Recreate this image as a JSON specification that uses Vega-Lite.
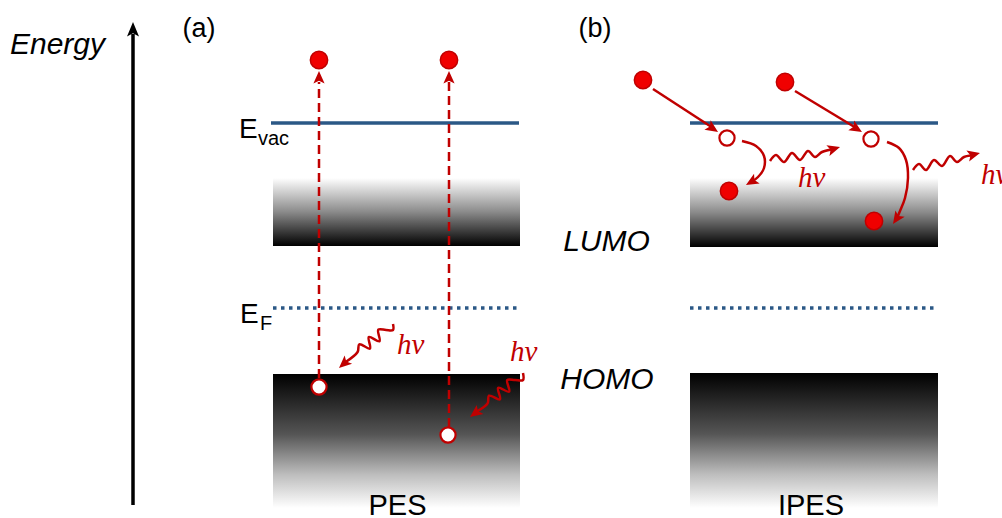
{
  "$schema": "https://vega.github.io/schema/vega-lite/v6.json",
  "width": 1002,
  "height": 518,
  "padding": 0,
  "autosize": {"type": "none"},
  "background": "white",
  "config": {"view": {"stroke": null}},
  "datasets": {
    "lumo": [
      {"x": 273, "x2": 520, "y": 178, "y2": 246, "panel": "PES"},
      {"x": 690, "x2": 938, "y": 178, "y2": 247, "panel": "IPES"}
    ],
    "homo": [
      {"x": 273, "x2": 520, "y": 374, "y2": 508, "panel": "PES"},
      {"x": 690, "x2": 938, "y": 373, "y2": 508, "panel": "IPES"}
    ],
    "evac": [
      {"x": 271, "x2": 519, "y": 123},
      {"x": 690, "x2": 938, "y": 123}
    ],
    "ef": [
      {"x": 273, "x2": 520, "y": 308},
      {"x": 690, "x2": 938, "y": 308}
    ],
    "axis": [{"x": 133, "y": 505, "y2": 34}],
    "axishead": [{"x": 133, "y": 30, "ang": 0}],
    "emission": [
      {"x": 319, "y": 378, "y2": 82},
      {"x": 449, "y": 427, "y2": 82}
    ],
    "incoming": [
      {"x": 653, "y": 89, "x2": 713, "y2": 128},
      {"x": 795, "y": 91, "x2": 857, "y2": 128.5}
    ],
    "curves": [
      {"id": "c1", "k": 0, "x": 742, "y": 141},
      {"id": "c1", "k": 1, "x": 756, "y": 146},
      {"id": "c1", "k": 2, "x": 764, "y": 156},
      {"id": "c1", "k": 3, "x": 764, "y": 168},
      {"id": "c1", "k": 4, "x": 758, "y": 177},
      {"id": "c1", "k": 5, "x": 752, "y": 181.5},
      {"id": "c2", "k": 0, "x": 887, "y": 142},
      {"id": "c2", "k": 1, "x": 899, "y": 148},
      {"id": "c2", "k": 2, "x": 906, "y": 160},
      {"id": "c2", "k": 3, "x": 908, "y": 178},
      {"id": "c2", "k": 4, "x": 905, "y": 198},
      {"id": "c2", "k": 5, "x": 900, "y": 211},
      {"id": "c2", "k": 6, "x": 897, "y": 218}
    ],
    "waves": [
      {"id": "w1", "k": 0, "x": 393, "y": 324},
      {"id": "w1", "k": 1, "x": 393, "y": 330},
      {"id": "w1", "k": 2, "x": 386, "y": 330},
      {"id": "w1", "k": 3, "x": 378.3, "y": 329.7},
      {"id": "w1", "k": 4, "x": 379.5, "y": 341.3},
      {"id": "w1", "k": 5, "x": 368.8, "y": 337},
      {"id": "w1", "k": 6, "x": 370, "y": 348.6},
      {"id": "w1", "k": 7, "x": 359.3, "y": 344.3},
      {"id": "w1", "k": 8, "x": 357.6, "y": 352},
      {"id": "w1", "k": 9, "x": 345, "y": 362.5},
      {"id": "w2", "k": 0, "x": 523, "y": 373},
      {"id": "w2", "k": 1, "x": 523, "y": 380},
      {"id": "w2", "k": 2, "x": 515, "y": 380},
      {"id": "w2", "k": 3, "x": 507.2, "y": 380.1},
      {"id": "w2", "k": 4, "x": 509.2, "y": 391.6},
      {"id": "w2", "k": 5, "x": 498.1, "y": 387.9},
      {"id": "w2", "k": 6, "x": 500, "y": 399.4},
      {"id": "w2", "k": 7, "x": 489, "y": 395.7},
      {"id": "w2", "k": 8, "x": 487.6, "y": 403.4},
      {"id": "w2", "k": 9, "x": 476, "y": 412},
      {"id": "w3", "k": 0, "x": 770, "y": 161},
      {"id": "w3", "k": 1, "x": 776, "y": 155},
      {"id": "w3", "k": 2, "x": 784, "y": 162},
      {"id": "w3", "k": 3, "x": 792, "y": 153},
      {"id": "w3", "k": 4, "x": 800, "y": 160},
      {"id": "w3", "k": 5, "x": 808, "y": 151},
      {"id": "w3", "k": 6, "x": 815, "y": 157},
      {"id": "w3", "k": 7, "x": 822, "y": 152},
      {"id": "w3", "k": 8, "x": 834, "y": 149},
      {"id": "w4", "k": 0, "x": 913, "y": 170},
      {"id": "w4", "k": 1, "x": 919, "y": 164},
      {"id": "w4", "k": 2, "x": 926, "y": 170},
      {"id": "w4", "k": 3, "x": 934, "y": 160},
      {"id": "w4", "k": 4, "x": 942, "y": 166},
      {"id": "w4", "k": 5, "x": 950, "y": 156},
      {"id": "w4", "k": 6, "x": 957, "y": 162},
      {"id": "w4", "k": 7, "x": 964, "y": 157},
      {"id": "w4", "k": 8, "x": 974, "y": 155}
    ],
    "heads": [
      {"x": 319, "y": 78, "ang": 0},
      {"x": 449, "y": 78, "ang": 0},
      {"x": 344.2, "y": 363.3, "ang": 228},
      {"x": 475.6, "y": 412.8, "ang": 233},
      {"x": 712.2, "y": 128.1, "ang": 123.5},
      {"x": 856, "y": 128.3, "ang": 121.5},
      {"x": 752, "y": 181.5, "ang": 240},
      {"x": 896.9, "y": 218.2, "ang": 214},
      {"x": 833.3, "y": 149, "ang": 74},
      {"x": 973.2, "y": 154.7, "ang": 76}
    ],
    "electrons": [
      {"x": 319, "y": 60},
      {"x": 449, "y": 60},
      {"x": 643, "y": 80},
      {"x": 785, "y": 82},
      {"x": 729, "y": 191},
      {"x": 874, "y": 221}
    ],
    "holes": [
      {"x": 319, "y": 387},
      {"x": 448, "y": 435},
      {"x": 727, "y": 138},
      {"x": 871, "y": 139}
    ],
    "italicLabels": [
      {"x": 57.5, "y": 54, "t": "Energy"},
      {"x": 606.5, "y": 251, "t": "LUMO"},
      {"x": 607, "y": 389, "t": "HOMO"}
    ],
    "panelLabels": [
      {"x": 397.5, "y": 515, "t": "PES"},
      {"x": 811, "y": 515, "t": "IPES"}
    ],
    "tags": [
      {"x": 199, "y": 37, "t": "(a)"},
      {"x": 595, "y": 37, "t": "(b)"}
    ],
    "levels": [
      {"x": 239, "y": 138, "t": "E"},
      {"x": 240, "y": 323, "t": "E"}
    ],
    "subs": [
      {"x": 258, "y": 145, "t": "vac"},
      {"x": 260, "y": 330, "t": "F"}
    ],
    "photons": [
      {"x": 397, "y": 354, "t": "hν"},
      {"x": 510, "y": 361, "t": "hν"},
      {"x": 798, "y": 187, "t": "hν"},
      {"x": 981, "y": 184, "t": "hν"}
    ]
  },
  "encoding": {
    "x": {"field": "x", "type": "quantitative", "scale": {"domain": [0, 1002], "nice": false, "zero": false}, "axis": null},
    "y": {"field": "y", "type": "quantitative", "scale": {"domain": [0, 518], "nice": false, "zero": false, "reverse": true}, "axis": null}
  },
  "layer": [
    {
      "data": {"name": "lumo"},
      "mark": {"type": "rect", "fill": {"gradient": "linear", "x1": 0, "y1": 0, "x2": 0, "y2": 1, "stops": [{"offset": 0, "color": "#ffffff"}, {"offset": 0.5, "color": "#8a8a8a"}, {"offset": 1, "color": "#000000"}]}},
      "encoding": {"x2": {"field": "x2"}, "y2": {"field": "y2"}}
    },
    {
      "data": {"name": "homo"},
      "mark": {"type": "rect", "fill": {"gradient": "linear", "x1": 0, "y1": 0, "x2": 0, "y2": 1, "stops": [{"offset": 0, "color": "#000000"}, {"offset": 0.45, "color": "#555555"}, {"offset": 0.75, "color": "#bdbdbd"}, {"offset": 1, "color": "#ffffff"}]}},
      "encoding": {"x2": {"field": "x2"}, "y2": {"field": "y2"}}
    },
    {
      "data": {"name": "evac"},
      "mark": {"type": "rule", "color": "#2b5886", "strokeWidth": 3.5},
      "encoding": {"x2": {"field": "x2"}}
    },
    {
      "data": {"name": "ef"},
      "mark": {"type": "rule", "color": "#2b5886", "strokeWidth": 3.5, "strokeDash": [3.5, 4.5]},
      "encoding": {"x2": {"field": "x2"}}
    },
    {
      "data": {"name": "axis"},
      "mark": {"type": "rule", "color": "#000000", "strokeWidth": 3.5},
      "encoding": {"y2": {"field": "y2"}}
    },
    {
      "data": {"name": "axishead"},
      "mark": {"type": "point", "shape": "M0,-1L0.75,0.8L0,0.4L-0.75,0.8Z", "filled": true, "color": "#000000", "opacity": 1, "size": 256},
      "encoding": {"angle": {"field": "ang", "type": "quantitative", "scale": null}}
    },
    {
      "data": {"name": "emission"},
      "mark": {"type": "rule", "color": "#c00000", "strokeWidth": 2.5, "strokeDash": [9, 5]},
      "encoding": {"y2": {"field": "y2"}}
    },
    {
      "data": {"name": "incoming"},
      "mark": {"type": "rule", "color": "#c00000", "strokeWidth": 2.5},
      "encoding": {"x2": {"field": "x2"}, "y2": {"field": "y2"}}
    },
    {
      "data": {"name": "curves"},
      "mark": {"type": "line", "color": "#c00000", "strokeWidth": 2.5, "interpolate": "catmull-rom"},
      "encoding": {"detail": {"field": "id"}, "order": {"field": "k", "type": "quantitative"}}
    },
    {
      "data": {"name": "waves"},
      "mark": {"type": "line", "color": "#c00000", "strokeWidth": 2.5, "interpolate": "catmull-rom"},
      "encoding": {"detail": {"field": "id"}, "order": {"field": "k", "type": "quantitative"}}
    },
    {
      "data": {"name": "heads"},
      "mark": {"type": "point", "shape": "M0,-1L0.8,0.8L0,0.4L-0.8,0.8Z", "filled": true, "color": "#c00000", "opacity": 1, "size": 196},
      "encoding": {"angle": {"field": "ang", "type": "quantitative", "scale": null}}
    },
    {
      "data": {"name": "electrons"},
      "mark": {"type": "point", "shape": "circle", "filled": true, "fill": "#f00000", "stroke": "#c00000", "strokeWidth": 1.5, "opacity": 1, "size": 300}
    },
    {
      "data": {"name": "holes"},
      "mark": {"type": "point", "shape": "circle", "filled": true, "fill": "#ffffff", "stroke": "#c00000", "strokeWidth": 2.2, "opacity": 1, "size": 230}
    },
    {
      "data": {"name": "italicLabels"},
      "mark": {"type": "text", "font": "Liberation Sans", "fontStyle": "italic", "fontSize": 30, "align": "center", "baseline": "alphabetic", "color": "#000000"},
      "encoding": {"text": {"field": "t"}}
    },
    {
      "data": {"name": "panelLabels"},
      "mark": {"type": "text", "font": "Liberation Sans", "fontSize": 29, "align": "center", "baseline": "alphabetic", "color": "#000000"},
      "encoding": {"text": {"field": "t"}}
    },
    {
      "data": {"name": "tags"},
      "mark": {"type": "text", "font": "Liberation Sans", "fontSize": 27, "align": "center", "baseline": "alphabetic", "color": "#000000"},
      "encoding": {"text": {"field": "t"}}
    },
    {
      "data": {"name": "levels"},
      "mark": {"type": "text", "font": "Liberation Sans", "fontSize": 28, "align": "left", "baseline": "alphabetic", "color": "#000000"},
      "encoding": {"text": {"field": "t"}}
    },
    {
      "data": {"name": "subs"},
      "mark": {"type": "text", "font": "Liberation Sans", "fontSize": 20, "align": "left", "baseline": "alphabetic", "color": "#000000"},
      "encoding": {"text": {"field": "t"}}
    },
    {
      "data": {"name": "photons"},
      "mark": {"type": "text", "font": "Liberation Serif", "fontStyle": "italic", "fontSize": 29, "align": "left", "baseline": "alphabetic", "color": "#c00000"},
      "encoding": {"text": {"field": "t"}}
    }
  ]
}
